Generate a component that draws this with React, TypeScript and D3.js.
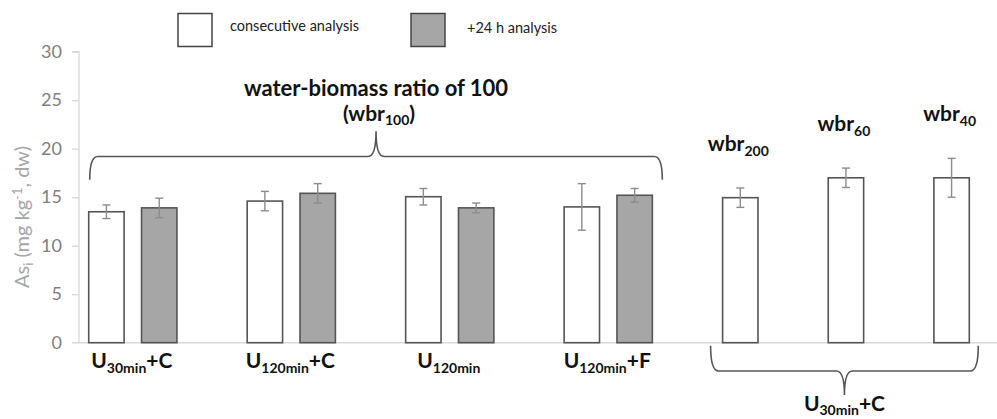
import * as d3 from "d3";
import { useEffect, useRef } from "react";

// groups measured both right after extraction and 24 h later (wbr 100)
const groupLabels = [
    { main: "U", sub: "30min", tail: "+C" },
    { main: "U", sub: "120min", tail: "+C" },
    { main: "U", sub: "120min", tail: "" },
    { main: "U", sub: "120min", tail: "+F" },
];
const consecutive = [13.5, 14.6, 15.05, 14.0];
const consecutiveErr = [0.7, 1.0, 0.85, 2.4];
const plus24h = [13.9, 15.4, 13.9, 15.2];
const plus24hErr = [1.0, 1.0, 0.5, 0.7];

// U30min+C at other water-biomass ratios
const wbrLabels = ["200", "60", "40"];
const wbrValues = [14.95, 17.0, 17.0];
const wbrErr = [1.0, 1.0, 2.0];

const yTicks = [0, 5, 10, 15, 20, 25, 30];

const width = 997;
const height = 419;
const FONT = "Lato, 'Open Sans', sans-serif";

export default function App() {
    const svgRef = useRef<SVGSVGElement>(null);

    useEffect(() => {
        if (svgRef.current) drawChart();
    }, []);

    const drawChart = () => {
        const svg = d3.select(svgRef.current);
        svg.selectAll("*").remove();

        // build bar list: two per group, a free slot, then the wbr bars with free slots between
        type Bar = { slot: string; value: number; err: number; gray: boolean };
        const bars: Bar[] = [];
        const slots: string[] = [];
        groupLabels.forEach((g, i) => {
            slots.push(`g${i}a`, `g${i}b`, `g${i}gap`);
            bars.push({ slot: `g${i}a`, value: consecutive[i], err: consecutiveErr[i], gray: false });
            bars.push({ slot: `g${i}b`, value: plus24h[i], err: plus24hErr[i], gray: true });
        });
        wbrLabels.forEach((w, i) => {
            slots.push(`w${i}`);
            if (i < wbrLabels.length - 1) slots.push(`w${i}gap`);
            bars.push({ slot: `w${i}`, value: wbrValues[i], err: wbrErr[i], gray: false });
        });

        const x = d3.scaleBand().domain(slots).range([80, 978]).paddingInner(0.33).paddingOuter(0.165);
        const y = d3.scaleLinear().domain([0, 30]).range([342.7, 51.7]);

        // y axis
        const yAxis = svg.append("g").attr("transform", "translate(79,0)");
        yAxis.call(d3.axisLeft(y).tickValues(yTicks).tickSize(7).tickPadding(10));
        yAxis.select(".domain").attr("stroke", "#d9d9d9").attr("stroke-width", 1.3).attr("d", `M-7,${y(30)}H0V${y(0)}`);
        yAxis.selectAll(".tick line").attr("stroke", "#d9d9d9").attr("stroke-width", 1.3);
        yAxis.selectAll(".tick").filter((d: any) => d === 0).select("line").remove();
        yAxis.selectAll(".tick text").attr("fill", "#7f7f7f").attr("font-size", 18).attr("font-family", FONT);

        // x baseline
        svg.append("line").attr("x1", 72).attr("x2", width).attr("y1", y(0)).attr("y2", y(0))
            .attr("stroke", "#d9d9d9").attr("stroke-width", 1.5);

        // y title
        const yTitle = svg.append("text")
            .attr("transform", `translate(29,217) rotate(-90)`)
            .attr("text-anchor", "middle")
            .attr("fill", "#a6a6a6").attr("font-size", 20).attr("font-family", FONT);
        yTitle.append("tspan").text("As");
        yTitle.append("tspan").attr("font-size", 13).attr("dy", 4).text("i");
        yTitle.append("tspan").attr("dy", -4).text(" (mg kg");
        yTitle.append("tspan").attr("font-size", 13).attr("dy", -7).text("-1");
        yTitle.append("tspan").attr("dy", 7).text(", dw)");

        // bars
        svg.append("g").selectAll("rect").data(bars).join("rect")
            .attr("x", (d) => x(d.slot)!)
            .attr("width", x.bandwidth())
            .attr("y", (d) => y(d.value))
            .attr("height", (d) => y(0) - y(d.value))
            .attr("fill", (d) => (d.gray ? "#a6a6a6" : "#ffffff"))
            .attr("stroke", "#555555").attr("stroke-width", 1.6);

        // error bars
        const eb = svg.append("g").attr("stroke", "#8c8c8c").attr("stroke-width", 1.4);
        bars.forEach((d) => {
            const cx = x(d.slot)! + x.bandwidth() / 2;
            eb.append("line").attr("x1", cx).attr("x2", cx).attr("y1", y(d.value + d.err)).attr("y2", y(d.value - d.err));
            eb.append("line").attr("x1", cx - 4).attr("x2", cx + 4).attr("y1", y(d.value + d.err)).attr("y2", y(d.value + d.err));
            eb.append("line").attr("x1", cx - 4).attr("x2", cx + 4).attr("y1", y(d.value - d.err)).attr("y2", y(d.value - d.err));
        });

        // group labels under the axis
        groupLabels.forEach((g, i) => {
            const cx = (x(`g${i}a`)! + x(`g${i}b`)! + x.bandwidth()) / 2;
            subLabel(svg, cx - 1, 368, g.main, g.sub, g.tail);
        });

        // wbr labels above bars
        wbrLabels.forEach((w, i) => {
            const cx = x(`w${i}`)! + x.bandwidth() / 2;
            subLabel(svg, cx - 2, y(wbrValues[i] + wbrErr[i]) - 37, "wbr", w, "");
        });

        // top brace over the wbr100 groups
        const tx0 = x("g0a")! + 1;
        const tx1 = x("g3b")! + x.bandwidth() + 10;
        drawBrace(svg, tx0, tx1, y(16.8), y(19.2), y(21.8));
        svg.append("text").attr("x", (tx0 + tx1) / 2).attr("y", 96).attr("text-anchor", "middle")
            .attr("font-family", FONT).attr("font-weight", 700).attr("font-size", 22).attr("fill", "#111")
            .text("water-biomass ratio of 100");
        const p = svg.append("text").attr("x", (tx0 + tx1) / 2 + 3).attr("y", 121).attr("text-anchor", "middle")
            .attr("font-family", FONT).attr("font-weight", 700).attr("font-size", 21).attr("fill", "#111");
        p.append("tspan").text("(wbr");
        p.append("tspan").attr("font-size", 14).attr("dy", 4).text("100");
        p.append("tspan").attr("dy", -4).text(")");

        // bottom brace under the wbr bars
        const bx0 = x("w0")! - 12;
        const bx1 = x("w2")! + x.bandwidth() + 9;
        drawBrace(svg, bx0, bx1, 345.7, 371, 395);
        subLabel(svg, (bx0 + bx1) / 2, 411, "U", "30min", "+C", 4);

        // legend
        const legend = [
            { label: "consecutive analysis", fill: "#ffffff", x: 178, tx: 230, ty: 31 },
            { label: "+24 h analysis", fill: "#a6a6a6", x: 411, tx: 467, ty: 33 },
        ];
        legend.forEach((l) => {
            svg.append("rect").attr("x", l.x).attr("y", 13.5).attr("width", 34).attr("height", 33)
                .attr("fill", l.fill).attr("stroke", "#444").attr("stroke-width", 1.5);
            svg.append("text").attr("x", l.tx).attr("y", l.ty).attr("font-family", FONT)
                .attr("font-size", 14.5).attr("fill", "#222").text(l.label);
        });
    };

    const subLabel = (svg: any, cx: number, by: number, main: string, sub: string, tail: string, shift = 5) => {
        const t = svg.append("text").attr("x", cx).attr("y", by).attr("text-anchor", "middle")
            .attr("font-family", FONT).attr("font-weight", 700).attr("font-size", 21).attr("fill", "#111");
        t.append("tspan").text(main);
        t.append("tspan").attr("font-size", 14).attr("dy", shift).text(sub);
        if (tail) t.append("tspan").attr("dy", -shift).text(tail);
    };

    // curly brace, ends at yEnd, straight part at yMid, tip at yTip
    const drawBrace = (svg: any, x0: number, x1: number, yEnd: number, yMid: number, yTip: number) => {
        const dir = yTip > yMid ? 1 : -1;
        const r = 8;
        const xm = (x0 + x1) / 2;
        const path = d3.path();
        path.moveTo(x0, yEnd);
        path.quadraticCurveTo(x0, yMid, x0 + r, yMid);
        path.lineTo(xm - r, yMid);
        path.quadraticCurveTo(xm, yMid, xm, yMid + dir * Math.abs(yTip - yMid));
        path.quadraticCurveTo(xm, yMid, xm + r, yMid);
        path.lineTo(x1 - r, yMid);
        path.quadraticCurveTo(x1, yMid, x1, yEnd);
        svg.append("path").attr("d", path.toString()).attr("fill", "none")
            .attr("stroke", "#555").attr("stroke-width", 1.6);
    };

    return <svg ref={svgRef} width={width} height={height} style={{ position: "absolute", left: 0, top: 0 }} />;
}
